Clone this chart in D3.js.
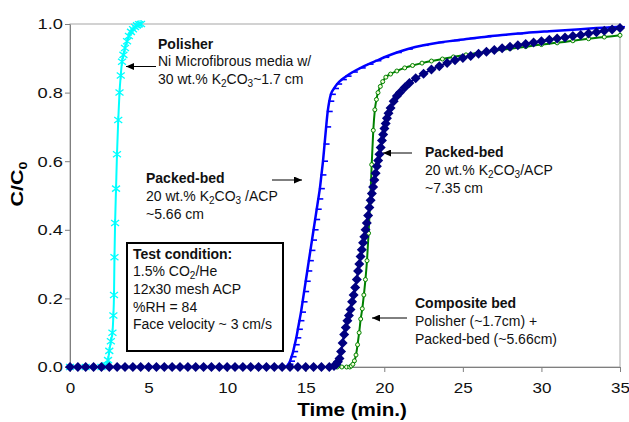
<!DOCTYPE html>
<html>
<head>
<meta charset="utf-8">
<script src="https://cdn.jsdelivr.net/npm/d3@7/dist/d3.min.js"></script>
<style>
  body { margin: 0; background: #fff; }
  svg { display: block; font-family: 'Liberation Sans', Arial, sans-serif; }
</style>
</head>
<body>
<div id="chart-area"></div>
<script>
// Breakthrough curves, C/C0 vs time (min.)
const xTicks = [0, 5, 10, 15, 20, 25, 30, 35]
const yTicks = [0, 0.2, 0.4, 0.6, 0.8, 1.0]

// Polisher: Ni microfibrous media, 1.7 cm
const polisherTime = [0, 1, 2, 2.3, 2.42, 2.5, 2.6, 2.7, 2.76, 2.8, 2.83, 2.87, 2.93, 2.99, 3.07, 3.15, 3.23,
                      3.31, 3.4, 3.5, 3.63, 3.75, 3.88, 4.01, 4.14, 4.26, 4.39, 4.52]
const polisherC    = [0, 0, 0, 0.005, 0.02, 0.047, 0.075, 0.1, 0.15, 0.21, 0.32, 0.42, 0.52, 0.62, 0.72, 0.8, 0.85,
                      0.89, 0.91, 0.93, 0.95, 0.965, 0.977, 0.985, 0.991, 0.996, 0.999, 1.0]

// Packed-bed 5.66 cm
const bed566Time = [0, 3, 6, 9, 12, 13.7, 13.8, 13.9, 14.0, 14.1, 14.2, 14.3, 14.4, 14.5, 14.6, 14.7, 14.8, 14.9,
                    15.0, 15.1, 15.2, 15.3, 15.4, 15.5, 15.6, 15.7, 15.8, 15.9, 16.0, 16.1, 16.2, 16.3, 16.4, 16.5,
                    16.6, 16.8, 17.0, 17.3, 17.6, 18.0, 18.5, 19.0, 19.5, 20.0, 20.8, 21.5, 22.5, 23.5, 24.5, 25.5,
                    26.5, 27.5, 28.5, 29.5, 30.5, 31.5, 32.5, 33.5, 34.3, 35]
const bed566C    = [0, 0, 0, 0, 0, 0, 0.003, 0.008, 0.017, 0.03, 0.045, 0.065, 0.085, 0.11, 0.135, 0.16, 0.19, 0.22,
                    0.25, 0.28, 0.31, 0.34, 0.37, 0.4, 0.43, 0.46, 0.49, 0.52, 0.56, 0.6, 0.65, 0.7, 0.745, 0.775,
                    0.795, 0.812, 0.825, 0.838, 0.848, 0.86, 0.872, 0.883, 0.893, 0.903, 0.917, 0.927, 0.938, 0.946, 0.952, 0.958,
                    0.963, 0.968, 0.972, 0.976, 0.979, 0.982, 0.985, 0.988, 0.99, 0.992]

// Composite bed: polisher + packed-bed 5.66 cm
const compositeTime = [0, 4, 8, 12, 16, 16.5, 17.0, 17.3, 17.6, 17.8, 17.9, 18.0, 18.1, 18.2, 18.3, 18.4, 18.5,
                       18.6, 18.7, 18.8, 18.9, 19.0, 19.1, 19.2, 19.3, 19.4, 19.5, 19.6, 19.75, 19.9, 20.1, 20.4,
                       20.8, 21.3, 21.8, 22.4, 23.0, 23.7, 24.4, 25.2, 26.0, 27.0, 28.0, 29.0, 30.0, 31.0, 32.0,
                       33.0, 34.0, 35.0]
const compositeC    = [0, 0, 0, 0, 0, 0, 0, 0, 0, 0, 0.003, 0.008, 0.018, 0.035, 0.065, 0.1, 0.14,
                       0.17, 0.21, 0.255, 0.31, 0.39, 0.48, 0.59, 0.69, 0.75, 0.78, 0.8, 0.818, 0.832, 0.845, 0.854,
                       0.863, 0.872, 0.879, 0.886, 0.892, 0.898, 0.904, 0.91, 0.916, 0.922, 0.928, 0.934, 0.94, 0.945, 0.951,
                       0.957, 0.962, 0.967]

// Packed-bed 7.35 cm
const bed735Time = [0, 0.5, 1, 1.5, 2, 2.5, 3, 3.5, 4, 4.5, 5, 5.5, 6, 6.5, 7, 7.5, 8, 8.5, 9, 9.5, 10, 10.5,
                    11, 11.5, 12, 12.5, 13, 13.5, 14, 14.5, 15, 15.5, 16, 16.5, 16.8, 16.95, 17.05, 17.15, 17.25,
                    17.35, 17.45, 17.55, 17.65, 17.75, 17.85, 17.95, 18.05, 18.15, 18.25, 18.33, 18.41, 18.49,
                    18.57, 18.65, 18.73, 18.81, 18.89, 18.97, 19.05, 19.13, 19.21, 19.29, 19.37, 19.45, 19.53,
                    19.61, 19.69, 19.77, 19.85, 19.93, 20.01, 20.09, 20.17, 20.27, 20.4, 20.6, 20.8, 21.0, 21.3,
                    21.6, 22.0, 22.5, 23.0, 23.5, 24.0, 24.5, 25.0, 25.5, 26.0, 26.5, 27.0, 27.5, 28.0, 28.5,
                    29.0, 29.5, 30.0, 30.5, 31.0, 31.5, 32.0, 32.5, 33.0, 33.5, 34.0, 34.5, 35.0]
const bed735C    = [0, 0, 0, 0, 0, 0, 0, 0, 0, 0, 0, 0, 0, 0, 0, 0, 0, 0, 0, 0, 0, 0,
                    0, 0, 0, 0, 0, 0, 0, 0, 0, 0, 0, 0, 0.003, 0.008, 0.015, 0.025, 0.045,
                    0.07, 0.095, 0.115, 0.135, 0.15, 0.168, 0.19, 0.21, 0.232, 0.255, 0.28, 0.3, 0.322,
                    0.342, 0.362, 0.38, 0.4, 0.42, 0.442, 0.465, 0.486, 0.506, 0.525, 0.545, 0.565, 0.585,
                    0.602, 0.62, 0.64, 0.66, 0.678, 0.695, 0.71, 0.725, 0.74, 0.755, 0.775, 0.79, 0.8, 0.815,
                    0.828, 0.842, 0.855, 0.867, 0.877, 0.886, 0.894, 0.901, 0.907, 0.913, 0.919, 0.924, 0.929, 0.934, 0.938,
                    0.942, 0.946, 0.95, 0.954, 0.958, 0.961, 0.965, 0.968, 0.972, 0.976, 0.98, 0.984, 0.988]

const margin = { left: 70, right: 9, top: 24, bottom: 55 }
const width = 629 - margin.left - margin.right
const height = 422 - margin.top - margin.bottom

// Excel-style chart text is a little wider than normal
const stretch = 1.18

const svg = d3.select('#chart-area')
              .append('svg')
              .attr('width', 629)
              .attr('height', 422)

svg.append('defs').append('marker')
   .attr('id', 'arrow')
   .attr('markerUnits', 'userSpaceOnUse')
   .attr('markerWidth', 8)
   .attr('markerHeight', 7)
   .attr('refX', 8)
   .attr('refY', 3.5)
   .attr('orient', 'auto')
   .append('path')
   .attr('d', 'M0,0L8,3.5L0,7Z')
   .attr('fill', '#000')

const g = svg.append('g')
             .attr('transform', 'translate(' + margin.left + ',' + margin.top + ')')

const x = d3.scaleLinear().domain([0, 35]).range([0, width])
const y = d3.scaleLinear().domain([0, 1]).range([height, 0])

// plot frame
g.append('rect')
 .attr('width', width)
 .attr('height', height)
 .attr('fill', 'none')
 .attr('stroke', '#a6a6a6')

// X Axis
const xAxisGroup = g.append('g')
                    .attr('transform', 'translate(0,' + height + ')')
                    .call(d3.axisBottom(x)
                            .tickValues(xTicks)
                            .tickSize(5)
                            .tickSizeOuter(0)
                            .tickPadding(10)
                            .tickFormat(d3.format('d')))

// Y Axis
const yAxisGroup = g.append('g')
                    .call(d3.axisLeft(y)
                            .tickValues(yTicks)
                            .tickSize(5)
                            .tickSizeOuter(0)
                            .tickFormat(d3.format('.1f')))

for (const axis of [xAxisGroup, yAxisGroup]) {
    axis.select('.domain').attr('stroke', '#7f7f7f')
    axis.selectAll('.tick line').attr('stroke', '#7f7f7f')
    axis.selectAll('.tick text')
        .attr('fill', '#111')
        .attr('font-size', '15.5px')
        .attr('font-family', "'Liberation Sans', Arial, sans-serif")
}
xAxisGroup.selectAll('.tick text').attr('transform', 'scale(1.1,1)')
yAxisGroup.selectAll('.tick text')
          .attr('x', -6)
          .attr('transform', 'scale(' + stretch + ',1)')

// X Label
g.append('text')
 .attr('transform', 'translate(282,' + (height + 49) + ') scale(' + stretch + ',1)')
 .attr('text-anchor', 'middle')
 .attr('font-size', '17.5px')
 .attr('font-weight', 'bold')
 .text('Time (min.)')

// Y Label
const yLabel = svg.append('text')
                  .attr('transform', 'translate(23,184) rotate(-90) scale(1.3,1)')
                  .attr('text-anchor', 'middle')
                  .attr('font-size', '16.5px')
                  .attr('font-weight', 'bold')
yLabel.append('tspan').text('C/C')
yLabel.append('tspan').attr('font-size', '11px').attr('dy', 4).text('0')

// Series
const series = [
    { time: polisherTime, c: polisherC, color: '#00ffff', width: 2, marker: 'star' },
    { time: bed566Time, c: bed566C, color: '#0000ff', width: 2.5, marker: 'dash' },
    { time: compositeTime, c: compositeC, color: '#008000', width: 2, marker: 'circle' },
    { time: bed735Time, c: bed735C, color: '#000080', width: 2, marker: 'diamond' }
]

const line = d3.line()
               .x(d => x(d[0]))
               .y(d => y(d[1]))
               .curve(d3.curveMonotoneX)

series.forEach(s => {
    const pts = s.time.map((t, i) => [t, s.c[i]])
    const sg = g.append('g')

    sg.append('path')
      .attr('d', line(pts))
      .attr('fill', 'none')
      .attr('stroke', s.color)
      .attr('stroke-width', s.width)

    const marks = sg.selectAll('.mark')
                    .data(pts)
                    .enter()
                    .append('g')
                    .attr('class', 'mark')
                    .attr('transform', d => 'translate(' + x(d[0]) + ',' + y(d[1]) + ')')

    if (s.marker === 'star') {
        marks.append('path')
             .attr('d', 'M-4,-3L4,3M-4,3L4,-3M0,-4L0,4')
             .attr('stroke', s.color)
             .attr('stroke-width', 1.3)
    } else if (s.marker === 'dash') {
        marks.append('path')
             .attr('d', 'M-1,0L5,0')
             .attr('stroke', s.color)
             .attr('stroke-width', 1.6)
    } else if (s.marker === 'circle') {
        marks.append('circle')
             .attr('r', 2)
             .attr('fill', '#f4ffd8')
             .attr('stroke', s.color)
             .attr('stroke-width', 1)
    } else {
        marks.append('path')
             .attr('d', 'M0,-5L5,0L0,5L-5,0Z')
             .attr('fill', s.color)
    }
})

// Annotations
const addLines = (x0, baselines, lines, boldFirst) => {
    lines.forEach((str, i) => {
        const t = svg.append('text')
                     .attr('x', x0)
                     .attr('y', baselines[i])
                     .attr('font-size', '14px')
                     .attr('fill', '#111')
                     .attr('font-weight', boldFirst && i === 0 ? 'bold' : 'normal')
        str.split(/_(\d)/).forEach((part, j) => {
            if (j % 2 === 1) {
                t.append('tspan').attr('font-size', '10px').attr('dy', 3).text(part)
            } else if (part) {
                t.append('tspan').attr('dy', j > 0 ? -3 : 0).text(part)
            }
        })
    })
}

const arrow = (x1, y1, x2, y2) => {
    svg.append('line')
       .attr('x1', x1).attr('y1', y1)
       .attr('x2', x2).attr('y2', y2)
       .attr('stroke', '#000')
       .attr('stroke-width', 1)
       .attr('marker-end', 'url(#arrow)')
}

addLines(158, [48.5, 66, 83.5],
         ['Polisher', 'Ni Microfibrous media w/', '30 wt.% K_2CO_3~1.7 cm'], true)
arrow(156, 66.5, 126, 66.5)

addLines(146, [182.5, 201, 218.5],
         ['Packed-bed', '20 wt.% K_2CO_3 /ACP', '~5.66 cm'], true)
arrow(272, 180, 302, 180)

addLines(425, [157, 175, 193],
         ['Packed-bed', '20 wt.% K_2CO_3/ACP', '~7.35 cm'], true)
arrow(412, 153, 383, 153)

addLines(415, [308, 326, 344],
         ['Composite bed', 'Polisher (~1.7cm) +', 'Packed-bed (~5.66cm)'], true)
arrow(407, 318, 372, 318)

// Test condition box
svg.append('rect')
   .attr('x', 127)
   .attr('y', 243)
   .attr('width', 156)
   .attr('height', 108)
   .attr('fill', '#fff')
   .attr('stroke', '#000')
   .attr('stroke-width', 2)

addLines(133, [258.5, 276, 294, 311.5, 329],
         ['Test condition:', '1.5% CO_2/He', '12x30 mesh ACP', '%RH = 84', 'Face velocity ~ 3 cm/s'], true)
</script>
</body>
</html>
